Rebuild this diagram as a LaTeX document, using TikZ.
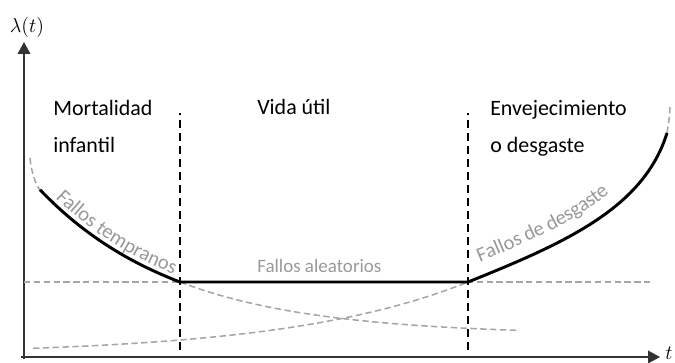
\documentclass[tikz,border=0pt]{standalone}
\usepackage{fontspec}
\setmainfont{Carlito}
\usepackage{tikz}
\usetikzlibrary{arrows.meta, decorations.text}

\begin{document}
\begin{tikzpicture}[x=0.025cm, y=0.025cm,
  eje/.style={draw=black!80, line width=1pt, -{Triangle[length=8.5pt, width=9pt]}},
  limite/.style={draw=black, line width=1.4pt, dash pattern=on 5.7pt off 3.6pt},
  guia/.style={draw=black!35, line width=1.1pt, dash pattern=on 4.5pt off 2.5pt},
  curva/.style={draw=black, line width=2.1pt},
  etiqueta/.style={anchor=base west, inner sep=0pt, font=\fontsize{15.6}{27}\selectfont},
  fallo/.style={anchor=base west, inner sep=0pt, text=black!40, font=\fontsize{13.5}{16}\selectfont},
  simbolo/.style={inner sep=0pt, font=\fontsize{15}{18}\selectfont}]
  \useasboundingbox (-24,-5) rectangle (651,357);
  % ejes
  \coordinate (ytip) at (0,315);
  \coordinate (xtip) at (636,0);
  \draw[eje] (0,-2) -- (ytip);
  \draw[eje] (-3,0) -- (xtip);
  \node[simbolo] (lambda) at (3,330) {$\lambda(t)$};
  \node[simbolo] (tlab) at (645,4) {$t$};
  % limites entre zonas
  \draw[limite] (156,7) -- (156,244);
  \draw[limite] (444,7) -- (444,244);
  \draw[guia] (0,75) -- (629,75);
  % curvas de fallos
  \draw[guia] (6,199) .. controls (7,186) and (12,171) .. (16,167.2);
  \draw[guia] plot[domain=156:494, samples=60] (\x, {22+53*exp(-0.0072*(\x-156))});
  \draw[guia] plot[domain=9:444, samples=60] (\x, {2+73*exp(0.0055*(\x-444))});
  \draw[guia] (643,224) .. controls (645,236) and (646,244) .. (646,252);
  \draw[curva] plot[domain=16:156, samples=50] (\x, {22+53*exp(-0.0072*(\x-156))})
    -- (444,75) .. controls (544,115) and (620,150) .. (643,224);
  % textos
  \node[etiqueta, align=left] (mortalidad) at (29,204) {Mortalidad\\infantil};
  \node[etiqueta] (vida) at (233,242) {Vida útil};
  \node[etiqueta, align=left] (envejecimiento) at (466,204) {Envejecimiento\\o desgaste};
  \node[fallo] (aleatorios) at (233,85) {Fallos aleatorios};
  \path[decorate, decoration={text along path, text align=left, raise=0.125cm,
    text={|\fontsize{14.6}{17}\selectfont\color{black!40}|Fallos tempranos}}]
    plot[domain=28:240, samples=60] (\x, {22+53*exp(-0.0072*(\x-156))});
  \path[decorate, decoration={text along path, text align={left indent=0.46cm}, raise=0.35cm,
    text={|\fontsize{14.6}{17}\selectfont\color{black!40}|Fallos de desgaste}}]
    (444,75) .. controls (544,115) and (620,150) .. (643,224);
\end{tikzpicture}
\end{document}
